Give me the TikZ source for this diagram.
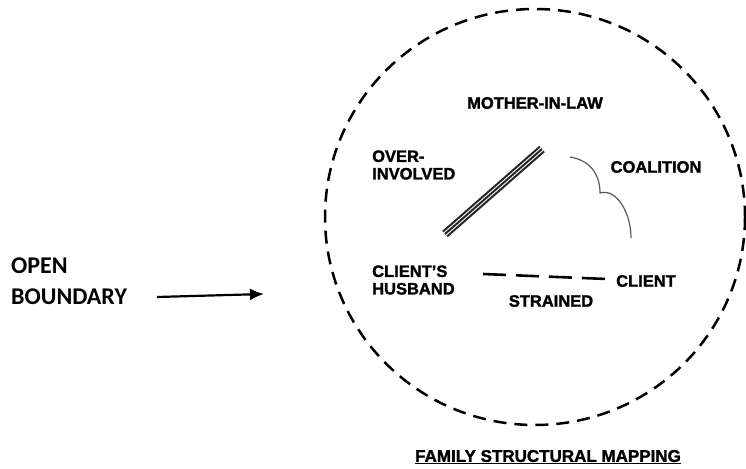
\documentclass[tikz,border=0pt]{standalone}
\usepackage{fontspec}
\setmainfont{Liberation Sans}[BoldFeatures={FakeBold=1.6}]
\newfontfamily\calibri{Carlito}
\usetikzlibrary{arrows.meta,positioning,calc}

\begin{document}
\begin{tikzpicture}[
    x=1pt, y=-1pt,
    lbl/.style={inner sep=0pt, align=left, font=\fontsize{16.5}{17.5}\selectfont\bfseries},
    side/.style={inner sep=0pt, align=left, font=\calibri\fontsize{24}{31}\selectfont\bfseries},
    boundary/.style={dash pattern=on 13pt off 8pt, line width=2.5pt},
    strain/.style={dash pattern=on 23pt off 10pt, line width=2.6pt},
    tie/.style={line width=2pt, black!85},
    arrow/.style={-{Latex[length=14pt,width=12pt]}, line width=2.2pt},
]
\useasboundingbox (0,0) rectangle (746,468);

% Family boundary
\draw[boundary] (535,217) ellipse [x radius=210, y radius=208];

% Family members
\node[lbl] (mil) at (535,103) {MOTHER-IN-LAW};
\node[lbl, anchor=west] (husband) at (372,280) {CLIENT’S\\HUSBAND};
\node[lbl, anchor=west] (client) at (616,281) {CLIENT};

% Relationship labels
\node[lbl, anchor=west] (over) at (372,165) {OVER-\\INVOLVED};
\node[lbl] (coal) at (656,167) {COALITION};
\node[lbl] (strained) at (551,301) {STRAINED};

% Line ends
\coordinate (ov1) at (445,234);
\coordinate (ov2) at (542,149);
\coordinate (co1) at (570,157);
\coordinate (co2) at (600,193);
\coordinate (co3) at (631,238);
\coordinate (st1) at (483,274);
\coordinate (st2) at (607,279);

% Over-involved (triple line)
\foreach \s in {-3.2,0,3.2}
  \draw[tie] ($(ov1)+(\s*0.66,\s*0.75)$) -- ($(ov2)+(\s*0.66,\s*0.75)$);

% Coalition
\draw[line width=1.2pt, black!65] (co1) .. controls (588,160) and (600,172) .. (co2)
    .. controls (616,188) and (631,212) .. (co3);

% Strained
\draw[strain] (st1) -- (st2);

% Open boundary
\node[side, anchor=west] (open) at (11,281) {OPEN\\BOUNDARY};
\coordinate (ob1) at (157,297);
\coordinate (ob2) at (264,294);
\draw[arrow] (ob1) -- (ob2);

% Title
\node[inner sep=0pt, font=\fontsize{17}{19}\selectfont\bfseries] (title) at (548,457) {\underline{FAMILY STRUCTURAL MAPPING}};

\end{tikzpicture}
\end{document}
